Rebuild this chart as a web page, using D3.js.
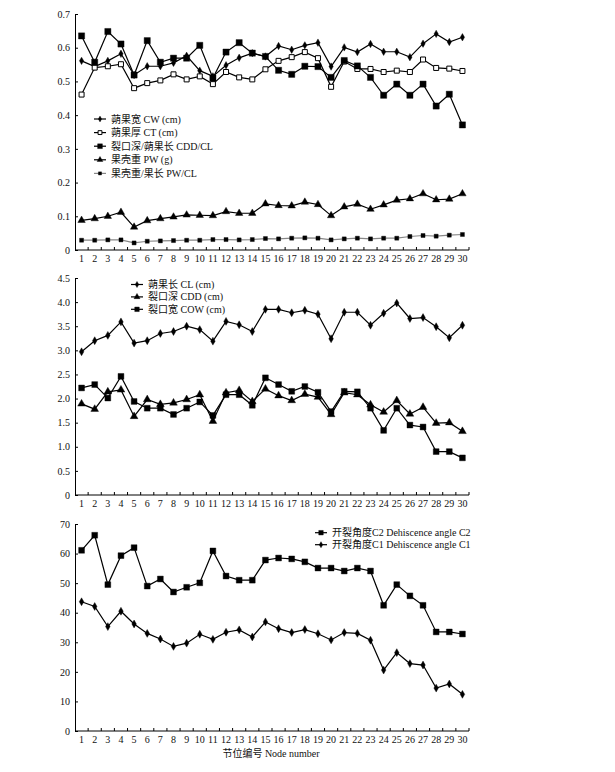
<!DOCTYPE html>
<html><head><meta charset="utf-8">
<script src="https://cdn.jsdelivr.net/npm/d3@7"></script>
<style>
body{margin:0;background:#fff;}
text{font-family:"Liberation Serif","Noto Sans CJK SC",serif;fill:#111;}
</style></head>
<body><svg id="c" width="615" height="772"></svg>
<script>
const nodes = d3.range(1, 31);
// Panel 1
const CW   = [0.561,0.544,0.561,0.582,0.519,0.545,0.545,0.555,0.576,0.532,0.515,0.548,0.570,0.584,0.574,0.605,0.594,0.607,0.615,0.544,0.601,0.587,0.611,0.588,0.588,0.572,0.612,0.641,0.617,0.631];
const CT   = [0.461,0.541,0.545,0.551,0.480,0.495,0.503,0.521,0.506,0.515,0.492,0.528,0.512,0.506,0.536,0.561,0.572,0.587,0.569,0.484,0.559,0.537,0.537,0.528,0.532,0.528,0.565,0.540,0.538,0.531];
const CDDCL= [0.635,0.557,0.648,0.611,0.519,0.621,0.557,0.569,0.569,0.607,0.510,0.587,0.615,0.584,0.574,0.533,0.521,0.545,0.544,0.512,0.562,0.546,0.512,0.459,0.492,0.459,0.492,0.427,0.462,0.371];
const PW   = [0.088,0.093,0.100,0.112,0.068,0.087,0.093,0.098,0.104,0.103,0.102,0.114,0.109,0.109,0.137,0.132,0.131,0.142,0.135,0.102,0.128,0.136,0.121,0.134,0.148,0.152,0.167,0.149,0.151,0.167];
const PWCL = [0.029,0.029,0.030,0.030,0.021,0.026,0.027,0.028,0.029,0.029,0.031,0.031,0.030,0.031,0.034,0.033,0.035,0.036,0.035,0.030,0.033,0.035,0.033,0.035,0.035,0.040,0.043,0.041,0.044,0.046];
// Panel 2
const CL  = [2.97,3.20,3.31,3.59,3.15,3.20,3.35,3.39,3.50,3.43,3.19,3.60,3.53,3.39,3.85,3.85,3.78,3.83,3.75,3.24,3.79,3.79,3.52,3.77,3.98,3.66,3.68,3.49,3.26,3.52];
const CDD = [1.89,1.78,2.14,2.18,1.63,1.98,1.88,1.91,1.98,2.08,1.53,2.12,2.17,1.94,2.20,2.06,1.96,2.09,2.03,1.67,2.12,2.08,1.87,1.72,1.96,1.68,1.82,1.49,1.50,1.32];
const COW = [2.22,2.29,2.01,2.46,1.94,1.80,1.80,1.67,1.80,1.93,1.65,2.08,2.08,1.86,2.43,2.29,2.15,2.25,2.13,1.73,2.15,2.14,1.80,1.34,1.80,1.45,1.41,0.90,0.90,0.77];
// Panel 3
const C2 = [61.1,66.2,49.5,59.3,62.0,49.0,51.4,47.0,48.6,50.1,60.9,52.4,51.0,51.0,57.8,58.5,58.2,57.2,55.1,55.1,54.1,55.1,54.1,42.5,49.5,45.7,42.5,33.5,33.5,32.8];
const C1 = [43.7,42.1,35.3,40.5,36.2,33.0,31.1,28.6,29.7,32.7,31.0,33.4,34.2,31.8,36.9,34.6,33.3,34.3,32.9,30.8,33.3,33.0,30.7,20.6,26.5,22.8,22.3,14.5,15.9,12.4];

const ticks1 = [0,0.1,0.2,0.3,0.4,0.5,0.6,0.7];
const ticks2 = [0,0.5,1.0,1.5,2.0,2.5,3.0,3.5,4.0,4.5];
const ticks3 = [0,10,20,30,40,50,60,70];
const xTitle = "节位编号 Node number";

const svg = d3.select("#c");
const x = d3.scaleBand().domain(nodes).range([75, 469]).padding(0);
const cx = d => x(d) + x.bandwidth()/2;

function panel(cfg){
  const y = d3.scaleLinear().domain(cfg.domain).range(cfg.range);
  const g = svg.append("g");
  const ya = d3.axisLeft(y).tickValues(cfg.ticks).tickSize(0).tickPadding(5).tickFormat(cfg.fmt);
  const gy = g.append("g").attr("transform","translate(75,0)").call(ya);
  gy.select(".domain").attr("stroke","#000").attr("stroke-width",1);
  gy.selectAll("text").attr("font-size",10).attr("font-family","Liberation Serif");
  gy.selectAll(".tick").append("line").attr("x1",0).attr("x2",3).attr("stroke","#000");
  const y0 = y(cfg.domain[0]);
  const xa = d3.axisBottom(x).tickSize(0).tickPadding(5);
  const gx = g.append("g").attr("transform",`translate(0,${y0})`).call(xa);
  gx.select(".domain").attr("stroke","#000").attr("stroke-width",1).attr("d",`M75,0H469`);
  gx.selectAll("text").attr("font-size",10).attr("font-family","Liberation Serif");
  const bounds = nodes.map(d => x(d)).concat([x(30)+x.bandwidth()]);
  gx.selectAll(".bt").data(bounds.slice(1)).enter().append("line")
    .attr("x1",d=>d).attr("x2",d=>d).attr("y1",0).attr("y2",-3).attr("stroke","#000");
  cfg.series.forEach(s => {
    const line = d3.line().x((v,i)=>cx(nodes[i])).y(v=>y(v));
    g.append("path").datum(s.values).attr("d",line).attr("fill","none")
      .attr("stroke",s.lineColor||"#000").attr("stroke-width",1.2);
    g.selectAll(null).data(s.values).enter().append("path")
      .attr("transform",(v,i)=>`translate(${cx(nodes[i])},${y(v)})`)
      .attr("d",d3.symbol().type(s.sym).size(s.size))
      .attr("fill",s.open?"#fff":"#000").attr("stroke","#000").attr("stroke-width",s.open?1:0.4);
  });
  cfg.series.forEach((s,k) => {
    const ly = cfg.legend.y + k*cfg.legend.dy;
    const lx = cfg.legend.x;
    g.append("line").attr("x1",lx).attr("x2",lx+12).attr("y1",ly).attr("y2",ly)
      .attr("stroke",s.lineColor||"#000").attr("stroke-width",1.2);
    g.append("path").attr("transform",`translate(${lx+6},${ly})`)
      .attr("d",d3.symbol().type(s.sym).size(s.size*0.6))
      .attr("fill",s.open?"#fff":"#000").attr("stroke","#000").attr("stroke-width",s.open?1:0.4);
    g.append("text").attr("x",lx+17).attr("y",ly).attr("dy","0.35em")
      .attr("font-size",10).attr("fill","#222").text(s.name);
  });
  return g;
}

const f1 = d => d===0 ? "0" : d3.format(".1f")(d);
panel({domain:[0,0.7], range:[250,14], ticks:ticks1, fmt:f1,
  legend:{x:94,y:119,dy:13.6},
  series:[
    {name:"蒴果宽 CW (cm)", values:CW, sym:d3.symbolDiamond, size:16},
    {name:"蒴果厚 CT (cm)", values:CT, sym:d3.symbolSquare, size:25, open:true},
    {name:"裂口深/蒴果长 CDD/CL", values:CDDCL, sym:d3.symbolSquare, size:38},
    {name:"果壳重 PW (g)", values:PW, sym:d3.symbolTriangle, size:24},
    {name:"果壳重/果长 PW/CL", values:PWCL, sym:d3.symbolSquare, size:16, lineColor:"#888"}
  ]});

panel({domain:[0,4.5], range:[495,278], ticks:ticks2, fmt:f1,
  legend:{x:131,y:284.5,dy:12.4},
  series:[
    {name:"蒴果长 CL (cm)", values:CL, sym:d3.symbolDiamond, size:18},
    {name:"裂口深 CDD (cm)", values:CDD, sym:d3.symbolTriangle, size:26},
    {name:"裂口宽 COW (cm)", values:COW, sym:d3.symbolSquare, size:34}
  ]});

panel({domain:[0,70], range:[731,524], ticks:ticks3, fmt:d3.format("d"),
  legend:{x:315,y:532.7,dy:12},
  series:[
    {name:"开裂角度C2 Dehiscence angle C2", values:C2, sym:d3.symbolSquare, size:34},
    {name:"开裂角度C1 Dehiscence angle C1", values:C1, sym:d3.symbolDiamond, size:18}
  ]});

svg.append("text").attr("x",271).attr("y",757).attr("text-anchor","middle")
  .attr("font-size",10).text(xTitle);
</script></body></html>
